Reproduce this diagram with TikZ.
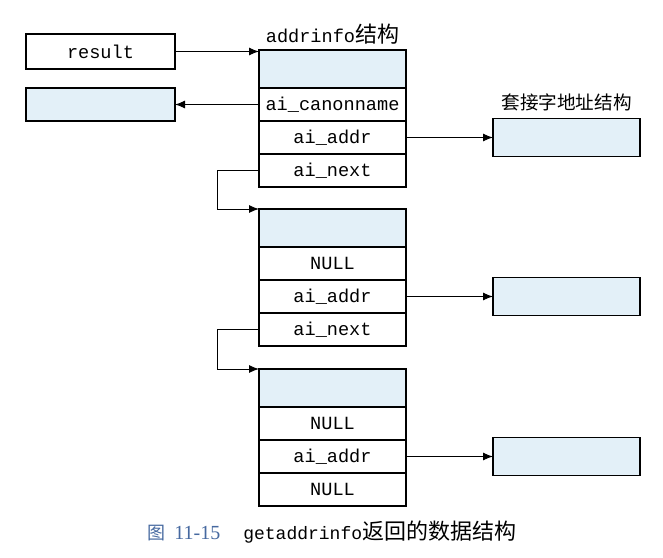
\documentclass[tikz,border=0pt]{standalone}
\usepackage{fontspec}
\setmonofont{Liberation Mono}
\newfontfamily\cjk{Noto Sans CJK SC}
\newfontfamily\capserif{Liberation Serif}
\usetikzlibrary{positioning,arrows.meta}
\definecolor{sockblue}{RGB}{227,240,248}
\definecolor{capblue}{RGB}{70,105,160}
\tikzset{
  field/.style={draw, line width=0.7pt, minimum width=73.5pt, minimum height=16.5pt,
    inner sep=0pt, outer sep=0pt, font=\ttfamily\fontsize{9.3}{11}\selectfont},
  hdr/.style={field, fill=sockblue, minimum height=19pt},
  sock/.style={draw, line width=0.7pt, fill=sockblue, minimum width=73.5pt,
    minimum height=19pt, inner sep=0pt, outer sep=0pt},
  ptr/.style={-{Latex[length=5pt,width=4pt]}, line width=0.5pt},
  title/.style={inner sep=0pt},
}

\begin{document}
\begin{tikzpicture}[x=0.5pt, y=-0.5pt]
\useasboundingbox [fill=white] (0,0) rectangle (663,557);
% result and the canonical name
\node [field, minimum width=74.5pt, minimum height=17.5pt] (result) at (100.5,51.5) {result};
\node [sock, minimum width=74.5pt, minimum height=16.5pt] (canon) at (100.5,104.5) {};
% first addrinfo
\node [hdr] (s1h) at (332.5,69) {};
\node [field, below=0pt of s1h] (s1c) {ai\_canonname};
\node [field, below=0pt of s1c] (s1a) {ai\_addr};
\node [field, below=0pt of s1a] (s1n) {ai\_next};
\node [title, above=2.5pt of s1h, font=\ttfamily\fontsize{9.3}{11}\selectfont]
  {addrinfo{\cjk\fontsize{11}{12}\selectfont 结构}};
\node [sock, right=43.5pt of s1a] (sa1) {};
\node [title, above=3.5pt of sa1, font=\cjk\fontsize{9.3}{11}\selectfont] {套接字地址结构};
% second addrinfo
\node [hdr] (s2h) at (332.5,228) {};
\node [field, below=0pt of s2h] (s2c) {NULL};
\node [field, below=0pt of s2c] (s2a) {ai\_addr};
\node [field, below=0pt of s2a] (s2n) {ai\_next};
\node [sock, right=43.5pt of s2a] (sa2) {};
% third addrinfo
\node [hdr] (s3h) at (332.5,388) {};
\node [field, below=0pt of s3h] (s3c) {NULL};
\node [field, below=0pt of s3c] (s3a) {ai\_addr};
\node [field, below=0pt of s3a] (s3n) {NULL};
\node [sock, right=43.5pt of s3a] (sa3) {};
% pointers
\draw [ptr] (result.east) -- (result.east -| s1h.west);
\draw [ptr] (s1c.west) -- (canon.east);
\draw [ptr] (s1a.east) -- (sa1.west);
\draw [ptr] (s2a.east) -- (sa2.west);
\draw [ptr] (s3a.east) -- (sa3.west);
\draw [ptr] (s1n.west) -- ++(-42,0) |- (s2h.north west);
\draw [ptr] (s2n.west) -- ++(-42,0) |- (s3h.north west);
% caption
\node [title, anchor=west] (cap) at (147,532)
  {{\color{capblue}{\cjk\fontsize{9}{10}\selectfont 图}\hspace{4.5pt}{\capserif\fontsize{10}{12}\selectfont 11-15}}\hspace{11.5pt}{\ttfamily\fontsize{9}{11}\selectfont getaddrinfo}{\cjk\fontsize{11}{12}\selectfont 返回的数据结构}};
\end{tikzpicture}
\end{document}
